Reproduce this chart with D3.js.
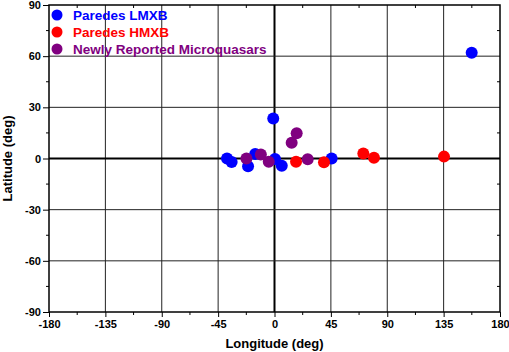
<!DOCTYPE html>
<html>
<head>
<meta charset="utf-8">
<script src="https://cdn.jsdelivr.net/npm/d3@7"></script>
<style>
  body { margin: 0; background: #fff; }
  text { font-family: Arial, "Liberation Sans", sans-serif; font-weight: bold; }
</style>
</head>
<body>
<div id="chart"></div>
<script>
// Series: [longitude, latitude] in degrees
var lmxb = [[-37.9, 0.0], [-34.2, -2.0], [-21.1, -4.6], [-15.4, 2.6], [-1.0, 23.5],
            [0.4, -0.3], [5.8, -4.3], [45.6, 0.0], [157.4, 62.0]];
var hmxb = [[17.2, -1.9], [39.5, -2.2], [70.9, 3.0], [79.4, 0.5], [135.3, 1.1]];
var newMq = [[-22.4, 0.0], [-10.9, 2.4], [-4.6, -1.9], [13.7, 9.3], [17.7, 14.8], [26.5, -0.4]];

var xTicks = [-180, -135, -90, -45, 0, 45, 90, 135, 180];
var yTicks = [-90, -60, -30, 0, 30, 60, 90];
var xMinor = [-157.5, -112.5, -67.5, -22.5, 22.5, 67.5, 112.5, 157.5];
var yMinor = [-75, -45, -15, 15, 45, 75];

var seriesNames = ["Paredes LMXB", "Paredes HMXB", "Newly Reported Microquasars"];
var seriesColors = ["#0000ff", "#ff0000", "#800080"];
var seriesData = [lmxb, hmxb, newMq];

var margin = {top: 5, right: 9, bottom: 40, left: 49},
    width = 509 - margin.left - margin.right,
    height = 352 - margin.top - margin.bottom;

var svg = d3.select("#chart")
  .append("svg")
    .attr("width", 509)
    .attr("height", 352)
  .append("g")
    .attr("transform", "translate(" + margin.left + "," + margin.top + ")");

var x = d3.scaleLinear().domain([-180, 180]).range([0, width]);
var y = d3.scaleLinear().domain([-90, 90]).range([height, 0]);

// plain hyphen minus, like the original
var fmt = d => String(d);

// Grid lines
svg.append("g").selectAll("line")
  .data(xTicks.slice(1, -1))
  .join("line")
    .attr("x1", d => x(d)).attr("x2", d => x(d))
    .attr("y1", 0).attr("y2", height)
    .attr("stroke", d => d === 0 ? "#000" : "#222")
    .attr("stroke-width", d => d === 0 ? 2 : 1);

svg.append("g").selectAll("line")
  .data(yTicks.slice(1, -1))
  .join("line")
    .attr("y1", d => y(d)).attr("y2", d => y(d))
    .attr("x1", 0).attr("x2", width)
    .attr("stroke", d => d === 0 ? "#000" : "#222")
    .attr("stroke-width", d => d === 0 ? 2 : 1);

// Bottom axis
var xAxis = svg.append("g")
  .attr("transform", "translate(0," + height + ")")
  .call(d3.axisBottom(x).tickValues(xTicks).tickSize(5).tickPadding(3).tickFormat(fmt));
xAxis.selectAll("text").attr("font-size", 11).attr("fill", "#000");
xAxis.select(".domain").remove();
xAxis.selectAll(".tick line").attr("stroke", "#000");
xAxis.selectAll(".minor").data(xMinor).join("line")
  .attr("class", "minor")
  .attr("x1", d => x(d)).attr("x2", d => x(d))
  .attr("y1", 0).attr("y2", 3).attr("stroke", "#000");

// Left axis
var yAxis = svg.append("g")
  .call(d3.axisLeft(y).tickValues(yTicks).tickSize(6).tickPadding(2).tickFormat(fmt));
yAxis.selectAll("text").attr("font-size", 11).attr("fill", "#000");
yAxis.select(".domain").remove();
yAxis.selectAll(".tick line").attr("stroke", "#000");
yAxis.selectAll(".minor").data(yMinor).join("line")
  .attr("class", "minor")
  .attr("y1", d => y(d)).attr("y2", d => y(d))
  .attr("x1", 0).attr("x2", -3).attr("stroke", "#000");

// Top and right mirrored minor ticks (inward)
svg.append("g").selectAll("line").data(xMinor).join("line")
  .attr("x1", d => x(d)).attr("x2", d => x(d))
  .attr("y1", 0).attr("y2", 3).attr("stroke", "#000");
svg.append("g").selectAll("line").data(yMinor).join("line")
  .attr("y1", d => y(d)).attr("y2", d => y(d))
  .attr("x1", width).attr("x2", width - 3).attr("stroke", "#000");

// Frame
svg.append("rect")
  .attr("x", 0).attr("y", 0)
  .attr("width", width).attr("height", height)
  .attr("fill", "none").attr("stroke", "#000").attr("stroke-width", 1.5);

// Points
seriesData.forEach(function(data, i) {
  svg.append("g").selectAll("circle")
    .data(data)
    .join("circle")
      .attr("cx", d => x(d[0]))
      .attr("cy", d => y(d[1]))
      .attr("r", 6)
      .attr("fill", seriesColors[i]);
});

// Legend
var legend = svg.append("g").attr("transform", "translate(8,10)");
seriesNames.forEach(function(name, i) {
  var g = legend.append("g").attr("transform", "translate(0," + (i * 17) + ")");
  g.append("circle").attr("cx", 0).attr("cy", 0).attr("r", 5.5).attr("fill", seriesColors[i]);
  g.append("text")
    .attr("x", 16).attr("y", 5)
    .attr("font-size", 13.5)
    .attr("fill", seriesColors[i])
    .text(name);
});

// Axis titles
svg.append("text")
  .attr("x", width / 2).attr("y", height + 36)
  .attr("text-anchor", "middle")
  .attr("font-size", 13)
  .text("Longitude (deg)");

svg.append("text")
  .attr("transform", "translate(" + (-37) + "," + (height / 2) + ") rotate(-90)")
  .attr("text-anchor", "middle")
  .attr("font-size", 13)
  .text("Latitude (deg)");
</script>
</body>
</html>
